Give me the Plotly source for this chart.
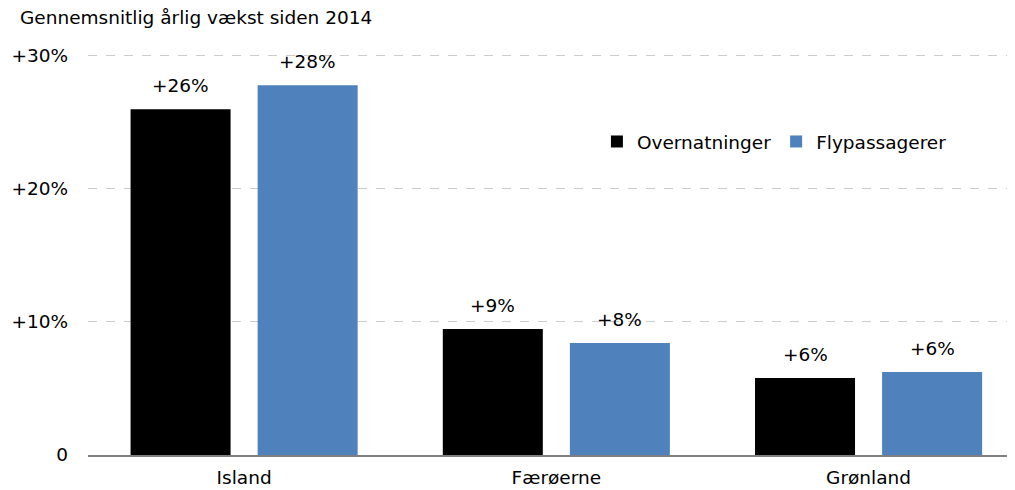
import plotly.graph_objects as go

categories = ["Island", "Færøerne", "Grønland"]
overnatninger = [25.95, 9.45, 5.78]
flypassagerer = [27.75, 8.4, 6.23]
labels_over = ["+26%", "+9%", "+6%"]
labels_fly = ["+28%", "+8%", "+6%"]
series_names = ["Overnatninger", "Flypassagerer"]
y_ticks = [0, 10, 20, 30]
y_ticklabels = ["0", "+10%", "+20%", "+30%"]
title_text = "Gennemsnitlig årlig vækst siden 2014"

FONT = "DejaVu Sans"
FS = 18.5
BLACK = "#000000"
BLUE = "#4f81bd"

fig = go.Figure()
fig.add_trace(go.Bar(x=categories, y=overnatninger, name=series_names[0],
                     marker=dict(color=BLACK, line=dict(width=0))))
fig.add_trace(go.Bar(x=categories, y=flypassagerer, name=series_names[1],
                     marker=dict(color=BLUE, line=dict(width=0))))

annotations = []
for cat, v, t in zip(categories, overnatninger, labels_over):
    annotations.append(dict(x=cat, y=v, xref="x", yref="y", text=t, showarrow=False,
                            xshift=-63.5, yshift=11, yanchor="bottom",
                            font=dict(family=FONT, size=FS, color="#000")))
for cat, v, t in zip(categories, flypassagerer, labels_fly):
    annotations.append(dict(x=cat, y=v, xref="x", yref="y", text=t, showarrow=False,
                            xshift=63.5, yshift=11, yanchor="bottom",
                            font=dict(family=FONT, size=FS, color="#000")))

# page body has an 8px margin, so the figure is 8px smaller and margins shifted
fig.update_layout(
    width=1007, height=482,
    margin=dict(l=80, r=0, t=34, b=35),
    paper_bgcolor="white", plot_bgcolor="white",
    font=dict(family=FONT, size=FS, color="#000"),
    barmode="group", bargap=0.186, bargroupgap=0.213,
    title=dict(text=title_text, x=12/1007, xanchor="left", xref="container",
               y=1-10/482, yanchor="middle", yref="container",
               font=dict(family=FONT, size=FS, color="#000")),
    legend=dict(orientation="h", x=0.549, xanchor="left", y=0.758, yanchor="middle",
                font=dict(family=FONT, size=FS, color="#000"), bgcolor="rgba(0,0,0,0)"),
    annotations=annotations,
    xaxis=dict(range=[-0.5, 2.469], showline=True, linecolor="#7f7f7f", linewidth=1.5,
               showgrid=False, ticks="", ticklabelstandoff=5, tickfont=dict(size=FS)),
    yaxis=dict(range=[0, 31], tickvals=y_ticks, ticktext=y_ticklabels,
               showgrid=True, gridcolor="#cccccc", griddash="dash", gridwidth=1,
               zeroline=False, showline=False, ticks="", ticklabelstandoff=19,
               tickfont=dict(size=FS)),
)

fig.write_html("out.html")
